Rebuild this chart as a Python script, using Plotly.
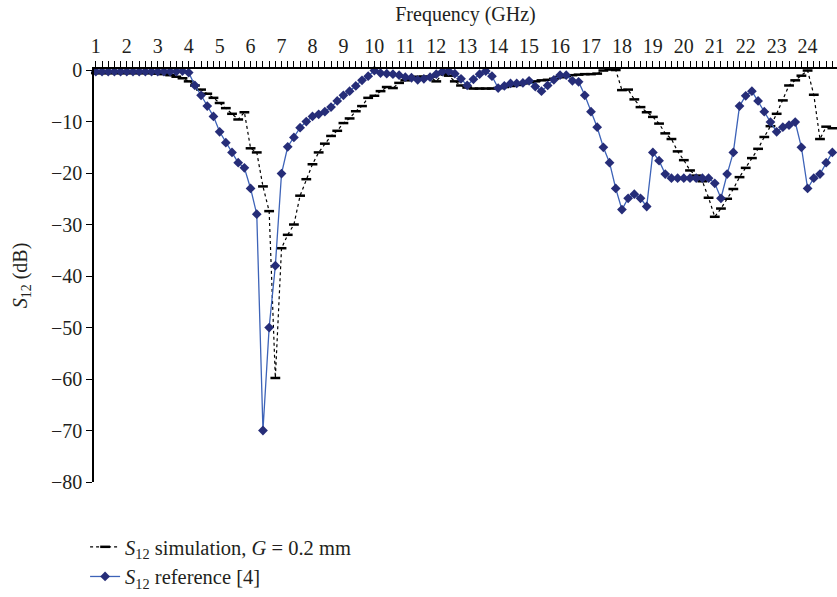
import plotly.graph_objects as go

freq = [1.0, 1.2, 1.4, 1.6, 1.8, 2.0, 2.2, 2.4, 2.6, 2.8,
        3.0, 3.2, 3.4, 3.6, 3.8, 4.0, 4.2, 4.4, 4.6, 4.8,
        5.0, 5.2, 5.4, 5.6, 5.8, 6.0, 6.2, 6.4, 6.6, 6.8,
        7.0, 7.2, 7.4, 7.6, 7.8, 8.0, 8.2, 8.4, 8.6, 8.8,
        9.0, 9.2, 9.4, 9.6, 9.8, 10.0, 10.2, 10.4, 10.6, 10.8,
        11.0, 11.2, 11.4, 11.6, 11.8, 12.0, 12.2, 12.4, 12.6, 12.8,
        13.0, 13.2, 13.4, 13.6, 13.8, 14.0, 14.2, 14.4, 14.6, 14.8,
        15.0, 15.2, 15.4, 15.6, 15.8, 16.0, 16.2, 16.4, 16.6, 16.8,
        17.0, 17.2, 17.4, 17.6, 17.8, 18.0, 18.2, 18.4, 18.6, 18.8,
        19.0, 19.2, 19.4, 19.6, 19.8, 20.0, 20.2, 20.4, 20.6, 20.8,
        21.0, 21.2, 21.4, 21.6, 21.8, 22.0, 22.2, 22.4, 22.6, 22.8,
        23.0, 23.2, 23.4, 23.6, 23.8, 24.0, 24.2, 24.4, 24.6, 24.8]

s12_simulation = [-0.6, -0.6, -0.6, -0.6, -0.6, -0.6, -0.6, -0.6, -0.6, -0.6,
                  -0.7, -0.8, -1.0, -1.3, -1.6, -2.2, -3.0, -3.8, -4.6, -5.4,
                  -6.4, -7.4, -8.5, -9.6, -8.2, -15.2, -16.0, -22.6, -27.4, -59.8,
                  -34.6, -32.0, -30.0, -24.4, -21.2, -18.3, -16.0, -14.3, -12.8, -11.8,
                  -10.3, -9.4, -8.0, -7.0, -5.4, -5.0, -4.1, -3.3, -3.5, -2.5,
                  -2.0, -1.5, -1.3, -1.3, -1.3, -2.2, -0.8, -1.1, -2.2, -3.0,
                  -3.4, -3.6, -3.6, -3.6, -3.6, -3.5, -3.3, -3.1, -2.9, -2.6,
                  -2.4, -2.2, -2.0, -1.9, -1.7, -1.4, -1.2, -1.0, -0.9, -0.8,
                  -0.8, -0.7, -0.1, 0.1, 0.0, -3.9, -3.8, -5.7, -7.2, -8.2,
                  -9.1, -10.4, -12.3, -13.4, -15.8, -17.5, -19.5, -20.5, -21.6, -24.8,
                  -28.5, -26.9, -25.0, -23.1, -20.8, -19.0, -17.1, -15.3, -13.0, -10.9,
                  -8.5, -5.9, -3.0, -2.0, -1.1, -0.1, -4.8, -13.4, -11.0, -11.3]

s12_reference = [-0.3, -0.3, -0.3, -0.3, -0.3, -0.3, -0.3, -0.3, -0.3, -0.3,
                 -0.3, -0.3, -0.3, -0.3, -0.2, -0.5, -3.0, -4.9, -7.0, -9.0,
                 -12.0, -14.1, -16.0, -18.0, -19.0, -23.0, -28.0, -70.0, -50.0, -38.0,
                 -20.1, -14.9, -13.1, -11.2, -10.0, -9.0, -8.6, -8.1, -7.2, -6.0,
                 -4.9, -4.1, -3.1, -2.0, -1.2, -0.1, -0.6, -0.7, -0.8, -1.0,
                 -1.4, -1.5, -1.9, -1.7, -1.4, -0.8, -0.3, -0.2, -0.7, -1.7,
                 -3.0, -1.8, -0.8, -0.2, -1.2, -3.5, -3.1, -2.6, -2.6, -2.5,
                 -2.1, -3.2, -4.1, -3.0, -1.9, -1.0, -1.0, -2.1, -2.3, -4.9,
                 -8.1, -11.1, -15.0, -18.0, -23.0, -27.1, -24.9, -24.1, -24.9, -26.5,
                 -16.0, -17.6, -20.2, -21.0, -21.0, -21.0, -21.0, -21.0, -21.0, -21.0,
                 -22.0, -24.9, -20.2, -16.0, -7.0, -5.0, -4.1, -6.0, -8.1, -10.1,
                 -12.0, -11.1, -10.7, -10.1, -15.0, -23.0, -21.0, -20.2, -18.0, -16.0]

x_ticks = list(range(1, 25))
y_ticks = [0, -10, -20, -30, -40, -50, -60, -70, -80]

FONT = "Liberation Serif"
FS = 20

fig = go.Figure()
fig.add_trace(go.Scatter(
    x=freq, y=s12_simulation, mode="lines+markers",
    name="<i>S</i><sub>12</sub> simulation, <i>G</i> = 0.2 mm",
    line=dict(color="black", width=1.2, dash="dot"),
    marker=dict(symbol="line-ew", size=7, color="black",
                line=dict(color="black", width=2.5)),
    cliponaxis=False,
))
fig.add_trace(go.Scatter(
    x=freq, y=s12_reference, mode="lines+markers",
    name="<i>S</i><sub>12</sub> reference [4]",
    line=dict(color="#3d63b8", width=1.3),
    marker=dict(symbol="diamond", size=7.5, color="#262d78"),
    cliponaxis=False,
))

fig.update_layout(
    width=837, height=597,
    margin=dict(l=94, r=0, t=69, b=115),
    paper_bgcolor="white", plot_bgcolor="white",
    font=dict(family=FONT, size=FS, color="#231f20"),
    showlegend=True,
    legend=dict(x=-0.012, y=-0.11, xanchor="left", yanchor="top",
                bgcolor="rgba(0,0,0,0)", font=dict(family=FONT, size=20.5),
                tracegroupgap=0, itemwidth=30),
    xaxis=dict(
        side="top", range=[0.94, 24.95],
        tickmode="array", tickvals=x_ticks, ticktext=[str(v) for v in x_ticks],
        ticks="outside", ticklen=6, tickwidth=1, tickcolor="black",
        minor=dict(dtick=0.2, tick0=1, ticks="outside", ticklen=6,
                   tickwidth=1, tickcolor="black"),
        showline=True, linecolor="black", linewidth=1.5,
        showgrid=False, zeroline=False,
        title=dict(text="Frequency (GHz)", font=dict(family=FONT, size=FS), standoff=8),
        tickfont=dict(family=FONT, size=FS),
    ),
    yaxis=dict(
        range=[-80, 0.2], tickmode="array", tickvals=y_ticks,
        ticks="outside", ticklen=6, tickwidth=1, tickcolor="black",
        showline=True, linecolor="black", linewidth=1.5,
        showgrid=False, zeroline=False,
        title=dict(text="<i>S</i><sub>12</sub> (dB)", font=dict(family=FONT, size=FS), standoff=18),
        tickfont=dict(family=FONT, size=FS),
    ),
)

fig.write_html("out.html")
